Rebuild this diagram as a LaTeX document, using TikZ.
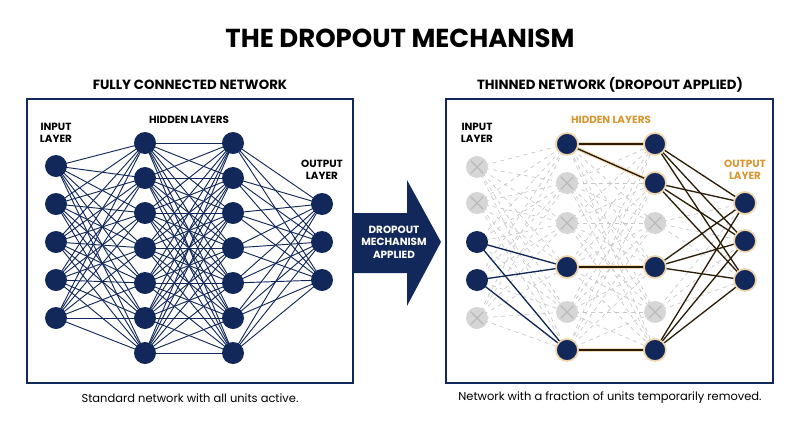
\documentclass[tikz,border=0pt]{standalone}
\usepackage{fontspec}
\setmainfont{Poppins}
\begin{document}
\definecolor{navy}{HTML}{13285A}
\definecolor{gold}{HTML}{D9962F}
\definecolor{ghost}{HTML}{D6D6D6}
\begin{tikzpicture}[x=0.75pt,y=-0.75pt,
  neu/.style={circle,fill=navy,minimum size=16.5pt,inner sep=0pt},
  act/.style={neu,draw=gold!40,line width=1.3pt},
  drop/.style={circle,fill=ghost,minimum size=16.5pt,inner sep=0pt,path picture={
     \draw[gray!55,line width=0.8pt] (path picture bounding box.north west)++(3.5pt,-3.5pt) -- ([shift={(-3.5pt,3.5pt)}]path picture bounding box.south east);
     \draw[gray!55,line width=0.8pt] ([shift={(3.5pt,3.5pt)}]path picture bounding box.south west) -- ([shift={(-3.5pt,-3.5pt)}]path picture bounding box.north east);}},
  full/.style={navy,line width=0.7pt},
  ghostl/.style={gray!45,dashed,line width=0.5pt},
  hot/.style={line width=1pt,draw=black!80!gold},
  lab/.style={font=\bfseries\fontsize{7.8}{9.3}\selectfont,align=center},
  panel/.style={draw=navy,line width=1.6pt}]
\useasboundingbox (0,0) rectangle (800,447);
\node[font=\bfseries\fontsize{19.5}{22}\selectfont] (title) at (400,38) {THE DROPOUT MECHANISM};
\node[font=\bfseries\fontsize{10}{12}\selectfont] (lt) at (190,85) {FULLY CONNECTED NETWORK};
\node[font=\bfseries\fontsize{10}{12}\selectfont] (rt) at (610,85) {THINNED NETWORK (DROPOUT APPLIED)};
\draw[panel] (27,99) rectangle (353,383);
\draw[panel] (446,99) rectangle (773,383);
\node[font=\fontsize{8.6}{11}\selectfont] (lc) at (190,398) {Standard network with all units active.};
\node[font=\fontsize{8.6}{11}\selectfont] (rc) at (610,398) {Network with a fraction of units temporarily removed.};
% arrow
\fill[navy] (354,213) -- (407,213) -- (407,180) -- (441,242) -- (407,306) -- (407,273) -- (354,273) -- cycle;
\node[lab,text=white] (arr) at (394,242) {DROPOUT\\MECHANISM\\APPLIED};
% left network
\foreach \i/\y in {1/166,2/204,3/242,4/280,5/318} \coordinate (LI\i) at (56,\y);
\foreach \i/\y in {1/143,2/178,3/213,4/248,5/283,6/318,7/353} {\coordinate (LA\i) at (145,\y); \coordinate (LB\i) at (233,\y);}
\foreach \i/\y in {1/204,2/242,3/280} \coordinate (LO\i) at (322,\y);
\foreach \a in {1,...,5} \foreach \b in {1,...,7} \draw[full] (LI\a) -- (LA\b);
\foreach \a in {1,...,7} \foreach \b in {1,...,7} \draw[full] (LA\a) -- (LB\b);
\foreach \a in {1,...,7} \foreach \b in {1,...,3} \draw[full] (LB\a) -- (LO\b);
\foreach \n in {LI1,LI2,LI3,LI4,LI5,LA1,LA2,LA3,LA4,LA5,LA6,LA7,LB1,LB2,LB3,LB4,LB5,LB6,LB7,LO1,LO2,LO3} \node[neu] at (\n) {};
\node[lab] (lil) at (56,133) {INPUT\\LAYER};
\node[lab] (lhl) at (189,120) {HIDDEN LAYERS};
\node[lab] (lol) at (322,170) {OUTPUT\\LAYER};
% right network
\foreach \i/\y in {1/167,2/203,3/242,4/280,5/318} \coordinate (RI\i) at (477,\y);
\foreach \i/\y in {1/144,2/183,3/223,4/267,5/312,6/350} {\coordinate (RA\i) at (567,\y); \coordinate (RB\i) at (655,\y);}
\foreach \i/\y in {1/203,2/241,3/280} \coordinate (RO\i) at (745,\y);
\foreach \a in {1,...,5} \foreach \b in {1,...,6} \draw[ghostl] (RI\a) -- (RA\b);
\foreach \a in {1,...,6} \foreach \b in {1,...,6} \draw[ghostl] (RA\a) -- (RB\b);
\foreach \a in {3,5} \foreach \b in {1,...,3} \draw[ghostl] (RB\a) -- (RO\b);
\foreach \a in {3,4} \foreach \b in {4,6} \draw[full,line width=1pt] (RI\a) -- (RA\b);
\foreach \p/\q in {1/1,1/2,4/4,6/6} {\draw[gold!35,line width=2.6pt] (RA\p) -- (RB\q); \draw[hot] (RA\p) -- (RB\q);}
\foreach \a in {1,2,4,6} \foreach \b in {1,...,3} \draw[hot] (RB\a) -- (RO\b);
\foreach \n in {RI1,RI2,RI5,RA2,RA3,RA5,RB3,RB5} \node[drop] at (\n) {};
\foreach \n in {RI3,RI4} \node[neu] at (\n) {};
\foreach \n in {RA1,RA4,RA6,RB1,RB2,RB4,RB6,RO1,RO2,RO3} \node[act] at (\n) {};
\node[lab] (ril) at (477,133) {INPUT\\LAYER};
\node[lab,text=gold] (rhl) at (611,120) {HIDDEN LAYERS};
\node[lab,text=gold] (rol) at (745,170) {OUTPUT\\LAYER};
\end{tikzpicture}
\end{document}
